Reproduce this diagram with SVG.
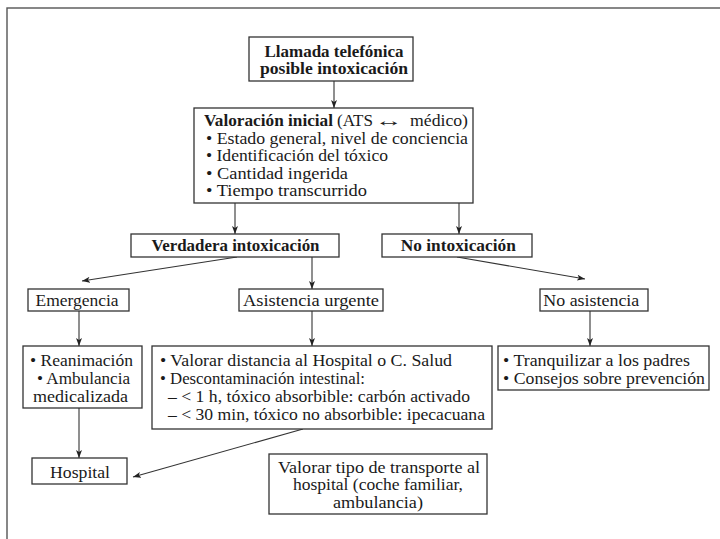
<svg xmlns="http://www.w3.org/2000/svg" width="720" height="539" viewBox="0 0 720 539">
<style>
.bx{fill:#fff;stroke:#333;stroke-width:1.3}
.t{font-family:"Liberation Serif","Times New Roman",serif;font-size:16px;fill:#1a1a1a}
.m{text-anchor:middle}
.bd{font-weight:bold}
.c{stroke:#333;stroke-width:1.1;fill:none;marker-end:url(#ah)}
</style>
<defs>
<marker id="ah" markerUnits="userSpaceOnUse" markerWidth="9" markerHeight="7" refX="8" refY="3" orient="auto">
<path d="M0,0 L8,3 L0,6 L2,3 z" fill="#222"/>
</marker>
</defs>
<rect x="0" y="0" width="720" height="539" fill="#fff"/>
<rect x="7" y="8" width="740" height="560" fill="none" stroke="#555" stroke-width="1.4"/>

<g id="connectors">
<line class="c" x1="334" y1="81" x2="334" y2="108"/>
<line class="c" x1="235" y1="203" x2="235" y2="234"/>
<line class="c" x1="459" y1="203" x2="459" y2="234"/>
<line class="c" x1="237" y1="257" x2="82" y2="281"/>
<line class="c" x1="312" y1="257" x2="312" y2="289"/>
<line class="c" x1="457" y1="257" x2="585" y2="279"/>
<line class="c" x1="79" y1="311" x2="79" y2="346"/>
<line class="c" x1="312" y1="311" x2="312" y2="346"/>
<line class="c" x1="590" y1="311" x2="590" y2="346"/>
<line class="c" x1="79" y1="408" x2="79" y2="458"/>
<line class="c" x1="303" y1="429" x2="133" y2="477"/>
</g>

<g id="llamada">
<rect class="bx" x="249" y="37" width="164" height="44"/>
<text class="t m bd" x="334" y="57" textLength="139" lengthAdjust="spacingAndGlyphs">Llamada telefónica</text>
<text class="t m bd" x="334" y="74" textLength="148" lengthAdjust="spacingAndGlyphs">posible intoxicación</text>
</g>

<g id="valoracion">
<rect class="bx" x="194" y="108" width="279" height="95"/>
<text class="t" y="126"><tspan class="bd" x="204" textLength="129" lengthAdjust="spacingAndGlyphs">Valoración inicial</tspan><tspan x="337" textLength="36" lengthAdjust="spacingAndGlyphs">(ATS</tspan><tspan x="375" textLength="28" lengthAdjust="spacingAndGlyphs">↔</tspan><tspan x="410" textLength="58" lengthAdjust="spacingAndGlyphs">médico)</tspan></text>
<text class="t" x="206" y="143.5" textLength="262" lengthAdjust="spacingAndGlyphs">• Estado general, nivel de conciencia</text>
<text class="t" x="206" y="161" textLength="182" lengthAdjust="spacingAndGlyphs">• Identificación del tóxico</text>
<text class="t" x="206" y="178.5" textLength="142" lengthAdjust="spacingAndGlyphs">• Cantidad ingerida</text>
<text class="t" x="206" y="196" textLength="161" lengthAdjust="spacingAndGlyphs">• Tiempo transcurrido</text>
</g>

<g id="verdadera">
<rect class="bx" x="131" y="234" width="208" height="23"/>
<text class="t m bd" x="235.5" y="251" textLength="168" lengthAdjust="spacingAndGlyphs">Verdadera intoxicación</text>
</g>

<g id="nointox">
<rect class="bx" x="382" y="234" width="150" height="23"/>
<text class="t m bd" x="458.3" y="251" textLength="115" lengthAdjust="spacingAndGlyphs">No intoxicación</text>
</g>

<g id="emergencia">
<rect class="bx" x="28" y="289" width="101" height="22"/>
<text class="t m" x="77" y="306" textLength="83" lengthAdjust="spacingAndGlyphs">Emergencia</text>
</g>

<g id="asistencia">
<rect class="bx" x="239" y="289" width="144" height="22"/>
<text class="t m" x="311" y="306" textLength="136" lengthAdjust="spacingAndGlyphs">Asistencia urgente</text>
</g>

<g id="noasistencia">
<rect class="bx" x="540" y="289" width="108" height="22"/>
<text class="t m" x="591.3" y="306" textLength="96" lengthAdjust="spacingAndGlyphs">No asistencia</text>
</g>

<g id="reanimacion">
<rect class="bx" x="23" y="346" width="119" height="62"/>
<text class="t m" x="81.5" y="366" textLength="103" lengthAdjust="spacingAndGlyphs">• Reanimación</text>
<text class="t m" x="83.5" y="384" textLength="93" lengthAdjust="spacingAndGlyphs">• Ambulancia</text>
<text class="t m" x="80.5" y="402" textLength="95" lengthAdjust="spacingAndGlyphs">medicalizada</text>
</g>

<g id="valorar">
<rect class="bx" x="152" y="346" width="340" height="83"/>
<text class="t" x="160" y="366" textLength="292" lengthAdjust="spacingAndGlyphs">• Valorar distancia al Hospital o C. Salud</text>
<text class="t" x="160" y="384" textLength="205" lengthAdjust="spacingAndGlyphs">• Descontaminación intestinal:</text>
<text class="t" x="168" y="402" textLength="302" lengthAdjust="spacingAndGlyphs">– &lt; 1 h, tóxico absorbible: carbón activado</text>
<text class="t" x="168" y="420" textLength="317" lengthAdjust="spacingAndGlyphs">– &lt; 30 min, tóxico no absorbible: ipecacuana</text>
</g>

<g id="tranquilizar">
<rect class="bx" x="498" y="346" width="211" height="44"/>
<text class="t" x="503" y="366" textLength="187" lengthAdjust="spacingAndGlyphs">• Tranquilizar a los padres</text>
<text class="t" x="503" y="383.5" textLength="202" lengthAdjust="spacingAndGlyphs">• Consejos sobre prevención</text>
</g>

<g id="hospital">
<rect class="bx" x="32" y="458" width="95" height="26"/>
<text class="t m" x="80" y="478" textLength="60" lengthAdjust="spacingAndGlyphs">Hospital</text>
</g>

<g id="transporte">
<rect class="bx" x="269" y="454" width="218" height="60"/>
<text class="t m" x="379" y="472.5" textLength="202" lengthAdjust="spacingAndGlyphs">Valorar tipo de transporte al</text>
<text class="t m" x="378" y="490" textLength="170" lengthAdjust="spacingAndGlyphs">hospital (coche familiar,</text>
<text class="t m" x="378" y="507.5" textLength="90" lengthAdjust="spacingAndGlyphs">ambulancia)</text>
</g>
</svg>
